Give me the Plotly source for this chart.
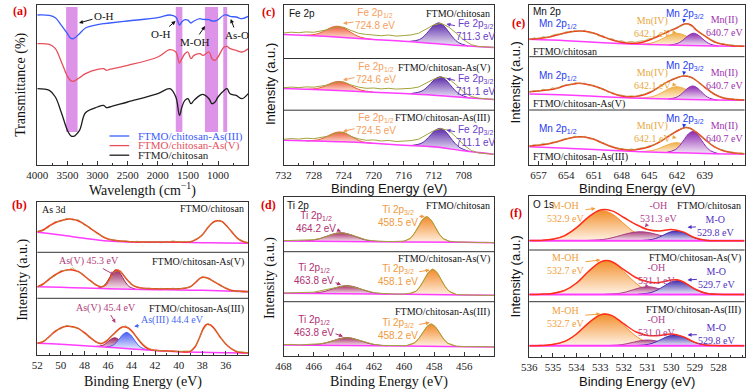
import plotly.graph_objects as go

W, H = 746, 391
SERIF = "Liberation Serif"
SANS = "Liberation Sans"

# ---------------- (a) FTIR ----------------
ftir_wn = [4000, 3800, 3700, 3600, 3500, 3450, 3400, 3300, 3200, 3000, 2900, 2850, 2800, 2500, 2000, 1800,
           1700, 1640, 1600, 1550, 1500, 1450, 1400, 1300, 1250, 1150, 1100, 1050, 1000, 900, 850, 800, 700, 600, 500]
ftir_as3 = [149.7, 149.3, 147, 139.3, 131, 126.7, 126, 131, 136.7, 140, 141, 141.3, 141.7, 143.7, 147, 149.7,
            147.7, 139.7, 143, 145, 144.5, 141.7, 143.7, 146, 145.3, 145, 143.7, 143.7, 145, 149.7, 149.7, 148.3, 147.7, 146, 148.3]
ftir_as5 = [121, 120.3, 116, 102.7, 88.3, 84.3, 83.3, 87, 91, 95.3, 96, 94.3, 95.3, 99.3, 107.7, 115,
            112.7, 101.7, 106, 111, 112.7, 106, 109.3, 111, 109.3, 112.7, 106, 104.3, 107.7, 117.7, 118.3, 116, 114.3, 112.7, 116]
ftir_raw = [76, 74.3, 67.7, 52, 34.3, 29.3, 28.3, 34.3, 52, 57.7, 59.3, 57, 57.7, 62.7, 71, 76,
            67.7, 49.3, 57.7, 64.3, 66, 61, 64.3, 69.3, 70.3, 66, 61, 62.7, 67.7, 74.3, 76, 71, 69.3, 66, 71]
band_lo = [3332, 1592, 1000, 848]
band_hi = [3522, 1701, 1217, 913]
band_bottom, band_top = 32.7, 157.7
ftir_names = ["FTMO/chitosan-As(III)", "FTMO/chitosan-As(V)", "FTMO/chitosan"]

# ---------------- (b) As 3d ----------------
b_raw_E = [52, 51.5, 51, 50.5, 50, 49.5, 49, 48.5, 48, 47.5, 47, 46.5, 46, 45.5, 45, 44.5, 44, 43.5, 43, 42.5,
           42, 41.5, 41, 40.5, 40, 39.5, 39, 38.5, 38, 37.5, 37, 36.5, 36, 35.5, 35, 34.5, 34.1]
b_raw_top = [123.8, 124.2, 128.0, 133.5, 133.6, 136.8, 134.9, 135.2, 129.8, 127.5, 121.8, 119.2, 115.6, 115.1, 113.6, 114.2,
             113.0, 113.8, 112.7, 113.5, 112.8, 113.4, 112.6, 114.2, 113.1, 113.6, 113.0, 116.2, 119.4, 128.3, 132.6, 134.8,
             129.4, 124.0, 116.2, 113.9, 112.0]
b_raw_mid = [68.0, 70.2, 76.8, 79.2, 84.6, 84.3, 87.2, 82.6, 79.8, 73.6, 70.5, 67.8, 72.4, 83.0, 84.6, 77.0, 70.2, 68.1,
             66.2, 66.9, 65.8, 66.7, 65.9, 66.8, 66.0, 67.1, 68.0, 73.8, 78.6, 76.2, 73.9, 69.4, 67.2, 63.8, 63.9, 62.8, 63.2]
b_raw_bot = [11.2, 13.9, 17.5, 24.6, 26.2, 29.8, 27.6, 26.9, 21.4, 18.0, 12.4, 11.9, 15.6, 21.0, 25.8, 29.4, 23.5, 17.0,
             10.8, 6.2, 4.2, 4.6, 3.5, 4.3, 3.2, 4.1, 3.9, 10.5, 23.4, 31.8, 26.0, 18.9, 10.4, 6.6, 3.4, 3.0, 2.0]
b_fit_top_E = [52, 51.5, 51, 50.5, 50, 49.5, 49, 48.5, 48, 47.5, 47, 46.5, 46, 45, 44, 42, 40, 39, 38.5, 38, 37.5, 37,
               36.7, 36.3, 36, 35.5, 35, 34.5, 34.1]
b_fit_top = [123.3, 125, 129, 132.3, 134.3, 135.7, 135.7, 134, 130.7, 126.7, 122.7, 118.7, 116, 114, 113.3, 113, 113,
             113.3, 115.7, 120, 127.7, 133.3, 134.3, 133.3, 130, 123.3, 116.7, 113.3, 112.3]
b_fit_mid_E = [52, 51.5, 51, 50.5, 50, 49.5, 49, 48.5, 48, 47.5, 47, 46.6, 46.2, 45.8, 45.5, 45.3, 45.0, 44.7, 44.3, 44.0,
               43.5, 43, 42, 40, 39.5, 39, 38.5, 38.2, 37.9, 37.5, 37, 36.5, 36, 35.5, 35, 34.1]
b_fit_mid = [68.3, 71, 75.7, 80, 83.3, 85, 85, 83.3, 79, 74.3, 70, 68.3, 70, 77.7, 83.3, 85, 84, 80, 74.3, 70.7,
             67.7, 66.7, 66.3, 66.3, 66.7, 68.3, 73.3, 76.7, 77.7, 76.7, 73.3, 70, 66.7, 64.6, 63.9, 63.4]
b_fit_bot_E = [52, 51.5, 51, 50.5, 50, 49.5, 49, 48.5, 48, 47.5, 47, 46.6, 46.2, 45.8, 45.4, 45.0, 44.7, 44.4, 44.0, 43.6,
               43.2, 42.8, 42.3, 42, 41, 40, 39, 38.6, 38.2, 37.9, 37.6, 37.3, 37, 36.5, 36, 35.5, 35, 34.1]
b_fit_bot = [11.7, 13.3, 18.3, 23.3, 27, 28.7, 28.3, 26.3, 22.3, 17.3, 13, 11.3, 13.3, 17.7, 22.3, 26.7, 28.3, 27.7, 24.3, 18.3,
             12.3, 7.7, 5.2, 4.7, 3.9, 3.6, 3.6, 8.3, 18.3, 26.7, 30.7, 30, 26.7, 18.3, 11, 6, 3.0, 2.2]
b_bg_E = [52, 50, 48, 46, 44, 42, 40, 38, 36, 34.1]
b_bg_top = [122.7, 120, 116.7, 114, 113, 112.7, 112.7, 112.3, 112, 111.7]
b_bg_mid = [68.3, 67.7, 67, 66.3, 65.7, 65.3, 65, 64.7, 64, 63.3]
b_bg_bot = [11.7, 10.7, 9.3, 7.7, 6, 4.5, 3.3, 2.7, 2.3, 2.0]
b_as5_mid_E = [46.95, 46.4, 46.13, 45.85, 45.58, 45.3, 45.03, 44.75, 44.48, 44.2, 43.65]
b_as5_mid = [66.4, 68.8, 72.4, 77.6, 82.8, 84.9, 82.7, 77.4, 72.1, 68.4, 65.8]
b_as5_bot_E = [47.05, 46.5, 46.23, 45.95, 45.68, 45.4, 45.13, 44.85, 44.58, 44.3, 43.75]
b_as5_bot = [8.6, 9.45, 11.15, 13.77, 16.27, 17.2, 15.82, 12.77, 9.75, 7.65, 5.8]
b_as3_bot_E = [46.2, 45.6, 45.3, 45.0, 44.7, 44.4, 44.1, 43.8, 43.5, 43.2, 42.6]
b_as3_bot = [7.9, 9.59, 12.37, 16.68, 20.89, 22.55, 20.39, 15.68, 10.87, 7.54, 4.9]

# ---------------- (c) Fe 2p ----------------
c_E = [732, 731, 730, 729, 728, 727, 726, 725, 724, 723, 722, 721, 720, 719, 718, 717, 716, 715, 714, 713, 712, 711,
       710, 709, 708, 707, 706, 705, 704]
c_raw_top = [131.5, 132.3, 131.8, 132.6, 132.2, 133.4, 135.0, 137.6, 137.3, 134.0, 131.2, 130.1, 129.6, 128.8, 129.5,
             128.4, 128.9, 129.6, 131.3, 135.2, 139.6, 141.2, 137.5, 131.4, 124.6, 119.8, 117.9, 117.6, 117.2]
c_raw_mid = [76.8, 77.4, 76.9, 77.6, 77.3, 78.4, 79.6, 82.3, 82.6, 79.5, 77.4, 76.2, 76.5, 75.6, 76.2, 75.4, 75.9, 76.2,
             77.5, 81.2, 85.3, 87.6, 85.7, 79.6, 72.5, 68.0, 66.3, 65.6, 65.2]
c_raw_bot = [25.2, 25.9, 25.4, 26.3, 25.8, 27.0, 28.4, 31.3, 32.2, 28.0, 25.6, 24.2, 24.6, 23.5, 24.1, 23.0, 23.4, 23.9,
             25.3, 29.5, 33.8, 35.9, 34.0, 27.4, 19.6, 14.0, 11.5, 10.9, 10.2]
c_bg_E = [732, 728, 724, 720, 716, 712, 708, 704]
c_bg_top = [130, 128.7, 127, 125, 123.3, 121, 118.7, 117]
c_bg_mid = [76, 75, 73.7, 72.3, 71, 69.3, 67, 65]
c_bg_bot = [24.3, 23.5, 22.7, 21.2, 19.3, 17.7, 13.7, 10.3]
c_fe12_top_E = [729.3, 727.8, 727.05, 726.3, 725.55, 724.8, 724.05, 723.3, 722.55, 721.8, 720.3]
c_fe12_top = [129.2, 130.1, 131.9, 134.6, 137.3, 138.3, 136.7, 133.4, 129.9, 127.4, 125.2]
c_fe32_top_E = [715.2, 713.9, 713.25, 712.6, 711.95, 711.3, 710.65, 710.0, 709.35, 708.7, 707.4]
c_fe32_top = [123.1, 124.9, 128.5, 134.1, 139.5, 141.6, 138.7, 132.6, 126.3, 121.9, 118.4]
c_fe12_mid_E = [729.1, 727.6, 726.85, 726.1, 725.35, 724.6, 723.85, 723.1, 722.35, 721.6, 720.1]
c_fe12_mid = [75.1, 75.96, 77.42, 79.85, 82.2, 83.1, 81.8, 79.05, 76.22, 74.16, 72.5]
c_fe32_mid_E = [715.0, 713.7, 713.05, 712.4, 711.75, 711.1, 710.45, 709.8, 709.15, 708.5, 707.2]
c_fe32_mid = [71.0, 73.0, 76.2, 81.05, 85.9, 87.7, 85.1, 79.65, 73.98, 70.12, 66.4]
c_fe12_bot_E = [729.0, 727.5, 726.75, 726.0, 725.25, 724.5, 723.75, 723.0, 722.25, 721.5, 720.0]
c_fe12_bot = [23.5, 24.55, 26.25, 28.97, 31.52, 32.6, 31.22, 28.17, 25.05, 22.75, 20.9]
c_fe32_bot_E = [715.0, 713.7, 713.05, 712.4, 711.75, 711.1, 710.45, 709.8, 709.15, 708.5, 707.2]
c_fe32_bot = [18.9, 21.0, 24.37, 29.6, 34.4, 36.1, 33.2, 27.2, 21.07, 16.8, 12.9]

# ---------------- (d) Ti 2p ----------------
d_raw_top_E = [468, 467.5, 467, 466.5, 466, 465.5, 465, 464.5, 464, 463.5, 463, 462.5, 462, 461.5, 461, 460.5, 460,
               459.6, 459.33, 459.05, 458.78, 458.5, 458.23, 457.95, 457.68, 457.4, 457, 456.5, 456, 455.5, 455, 454.5, 454]
d_raw_top = [115.3, 115.6, 115.2, 115.7, 116.3, 117.8, 120.3, 122.8, 123.0, 121.2, 118.6, 116.1, 115.1, 114.5, 114.4,
             114.6, 114.9, 117.6, 122.3, 129.5, 136.4, 139.4, 136.4, 129.5, 122.3, 117.5, 114.8, 114.1, 113.7, 113.9,
             113.5, 113.6, 113.3]
d_raw_mid_E = [468, 467.5, 467, 466.5, 466, 465.5, 465, 464.5, 464, 463.5, 463, 462.5, 462, 461.5, 461, 460.5, 460,
               459.6, 459.2, 458.93, 458.65, 458.38, 458.1, 457.83, 457.55, 457.28, 457.0, 456.5, 456, 455.5, 455, 454.5, 454]
d_raw_mid = [63.0, 63.3, 62.9, 63.5, 63.8, 65.4, 66.8, 68.7, 70.1, 69.6, 67.6, 65.0, 63.3, 62.6, 62.1, 61.9, 62.0, 62.8,
             64.9, 69.8, 76.9, 83.8, 86.8, 83.8, 76.7, 69.6, 64.7, 61.4, 61.1, 60.8, 61.0, 60.6, 60.7]
d_raw_bot_E = [468, 467.5, 467, 466.5, 466, 465.5, 465, 464.5, 464, 463.5, 463, 462.5, 462, 461.5, 461, 460.5, 460,
               459.85, 459.3, 459.03, 458.75, 458.48, 458.2, 457.93, 457.65, 457.38, 457.1, 456.55, 456, 455.5, 455, 454.5, 454]
d_raw_bot = [11.3, 11.6, 11.1, 11.5, 11.9, 12.3, 14.0, 16.3, 18.1, 17.9, 15.8, 13.4, 11.6, 10.6, 10.3, 10.1, 10.3, 10.4,
             13.2, 17.4, 23.4, 29.5, 32.0, 29.3, 23.3, 17.0, 12.8, 9.9, 9.4, 9.6, 9.2, 9.3, 9.0]
d_bg_E = [468, 462, 456, 454]
d_bg_top = [115, 114.3, 113.7, 113.3]
d_bg_mid = [62.7, 62, 61, 60.7]
d_bg_bot = [11, 10.3, 9.3, 9]
d_ti12_top_E = [466.9, 466.0, 465.55, 465.1, 464.65, 464.2, 463.75, 463.3, 462.85, 462.4, 461.5]
d_ti12_top = [114.9, 115.96, 117.6, 120.0, 122.3, 123.3, 122.2, 119.8, 117.3, 115.56, 114.3]
d_ti32_top_E = [460.15, 459.6, 459.33, 459.05, 458.78, 458.5, 458.23, 457.95, 457.68, 457.4, 456.85]
d_ti32_top = [114.1, 117.5, 122.2, 129.4, 136.3, 139.3, 136.3, 129.4, 122.1, 117.3, 113.8]
d_ti12_mid_E = [466.5, 465.6, 465.15, 464.7, 464.25, 463.8, 463.35, 462.9, 462.45, 462.0, 461.1]
d_ti12_mid = [62.6, 63.6, 65.1, 67.3, 69.5, 70.3, 69.4, 67.1, 64.8, 63.1, 61.9]
d_ti32_mid_E = [459.75, 459.2, 458.93, 458.65, 458.38, 458.1, 457.83, 457.55, 457.28, 457.0, 456.45]
d_ti32_mid = [61.5, 64.8, 69.7, 76.8, 83.7, 86.7, 83.7, 76.6, 69.5, 64.6, 61.0]
d_ti12_bot_E = [466.5, 465.6, 465.15, 464.7, 464.25, 463.8, 463.35, 462.9, 462.45, 462.0, 461.1]
d_ti12_bot = [10.9, 11.84, 13.3, 15.37, 17.5, 18.4, 17.4, 15.27, 13.0, 11.44, 10.2]
d_ti32_bot_E = [459.85, 459.3, 459.03, 458.75, 458.48, 458.2, 457.93, 457.65, 457.38, 457.1, 456.55]
d_ti32_bot = [10.2, 13.07, 17.25, 23.35, 29.4, 31.95, 29.3, 23.25, 16.95, 12.77, 9.7]

# ---------------- (e) Mn 2p ----------------
e_raw_E = [658, 657.5, 657, 656.5, 656, 655.5, 655, 654.5, 654, 653.5, 653, 652.5, 652, 651.5, 651, 650.5, 650, 649.5,
           649, 648.5, 648, 647.5, 647, 646.5, 646, 645.5, 645, 644.5, 644, 643.5, 643, 642.5, 642, 641.5, 641, 640.5,
           640, 639.5, 639, 638.5, 638, 637.5, 637, 636.5, 636, 635.5, 635, 634.7]
e_raw_top = [125.0, 127.2, 126.0, 128.5, 127.2, 129.8, 131.0, 130.6, 133.4, 132.5, 134.6, 133.2, 134.8, 132.0, 132.4,
             129.1, 129.3, 126.0, 126.4, 123.5, 124.3, 122.6, 123.6, 122.8, 124.0, 124.3, 126.5, 126.7, 130.2, 131.0,
             134.4, 134.8, 138.0, 139.2, 141.5, 139.3, 136.6, 131.5, 129.8, 125.4, 124.2, 121.3, 121.5, 119.6, 120.2,
             118.8, 119.4, 118.6]
e_raw_mid = [72.6, 74.5, 73.5, 75.8, 74.6, 77.2, 76.4, 78.9, 80.2, 80.4, 82.3, 81.2, 82.0, 79.3, 79.8, 76.6, 76.5, 72.8,
             72.6, 69.8, 70.0, 68.4, 69.2, 68.5, 70.1, 71.0, 73.2, 74.4, 77.5, 80.8, 83.0, 85.9, 86.8, 88.9, 89.4, 87.3,
             85.6, 80.6, 78.4, 73.5, 71.6, 68.4, 67.7, 65.8, 66.3, 64.9, 65.5, 64.8]
e_raw_bot = [18.4, 20.4, 19.6, 21.8, 20.6, 23.0, 22.6, 25.3, 26.4, 27.0, 28.9, 27.6, 28.7, 26.1, 26.3, 22.9, 22.5, 19.3,
             18.8, 16.2, 16.6, 15.0, 16.0, 15.4, 17.0, 17.3, 19.4, 20.0, 23.3, 25.0, 29.0, 31.6, 34.6, 36.2, 37.8, 36.0,
             33.9, 28.8, 26.3, 21.4, 19.0, 15.6, 15.0, 12.6, 13.0, 11.5, 12.0, 11.2]
e_fit_top_E = [658, 656, 655, 654, 653, 652.5, 652, 651, 650, 649, 648, 647, 646, 645, 644, 643, 642, 641.2, 640.5, 640,
               639, 638, 637, 636, 634.7]
e_fit_top = [125.7, 127.7, 130, 132.3, 133.7, 134, 133.7, 131.7, 128.3, 125, 122.7, 121.7, 122.3, 125, 129, 133.3, 137.3,
             141, 140, 135.7, 129, 123.3, 120.7, 119.3, 118.7]
e_fit_mid_E = [658, 656, 655, 654, 653, 652.5, 652, 651, 650, 649, 648, 647, 646, 645, 644, 643, 642, 641.3, 640.5, 640,
               639, 638, 637, 636, 634.7]
e_fit_mid = [73.3, 75, 76.7, 79.7, 81.3, 81.7, 81, 79, 75.7, 71.7, 69, 68.3, 69.3, 72.3, 77.7, 83.3, 87.3, 89, 87.7, 85,
             77.7, 71, 67, 65.7, 65]
e_fit_bot_E = [658, 656, 655, 654, 653, 652.4, 652, 651, 650, 649, 648, 647, 646, 645, 644, 643, 642, 641.2, 640.6, 640,
               639, 638, 637, 636, 634.7]
e_fit_bot = [19, 21, 23.3, 26, 28, 28.3, 28, 25.7, 21.7, 18, 15.7, 15, 16, 18.3, 22.3, 28.3, 34, 37.3, 36.7, 33.3, 25.7,
             18.3, 14.3, 12.3, 11.3]
e_bg_E = [658, 654, 650, 646, 642, 638, 634.7]
e_bg_top = [125.7, 124.3, 122.3, 120.7, 119.7, 119, 118.7]
e_bg_mid = [71, 70, 68.3, 66.7, 65.7, 65, 64.7]
e_bg_bot = [18.3, 16.7, 15, 13.3, 12.3, 11.3, 11]
e_mn4_top_E = [646.2, 644.8, 644.1, 643.4, 642.7, 642.0, 641.3, 640.6, 639.9, 639.2, 637.8]
e_mn4_top = [120.75, 121.9, 124.1, 127.3, 130.5, 131.7, 130.2, 126.8, 123.2, 120.8, 119.0]
e_mn2_top_E = [642.9, 642.0, 641.55, 641.1, 640.65, 640.2, 639.75, 639.3, 638.85, 638.4, 637.5]
e_mn2_top = [119.85, 121.4, 123.6, 127.0, 130.4, 131.8, 130.2, 126.7, 123.2, 120.8, 119.0]
e_mn4_mid_E = [646.2, 644.8, 644.1, 643.4, 642.7, 642.0, 641.3, 640.6, 639.9, 639.2, 637.8]
e_mn4_mid = [66.75, 68.1, 70.3, 73.65, 77.0, 78.3, 76.7, 73.05, 69.4, 66.9, 64.95]
e_mn2_mid_E = [643.0, 642.1, 641.65, 641.2, 640.75, 640.3, 639.85, 639.4, 638.95, 638.5, 637.6]
e_mn2_mid = [65.85, 67.55, 70.05, 73.8, 77.5, 79.0, 77.3, 73.5, 69.55, 66.85, 64.9]
e_mn4_bot_E = [646.2, 644.8, 644.1, 643.4, 642.7, 642.0, 641.3, 640.6, 639.9, 639.2, 637.8]
e_mn4_bot = [13.35, 14.35, 16.05, 18.72, 21.32, 22.3, 20.97, 18.02, 15.05, 12.95, 11.25]
e_mn2_bot_E = [643.15, 642.2, 641.73, 641.25, 640.78, 640.3, 639.83, 639.35, 638.88, 638.4, 637.45]
e_mn2_bot = [12.6, 15.27, 19.27, 25.2, 31.05, 33.5, 30.85, 24.75, 18.57, 14.32, 11.15]

# ---------------- (f) O 1s ----------------
f_fit_top_E = [536, 535.5, 535, 534.5, 534, 533.5, 533, 532.5, 532, 531.5, 531, 530.5, 530, 529.5, 529, 528.5, 528, 526.9]
f_fit_top = [116.1, 116.3, 117.4, 121.1, 129, 139.6, 146.7, 145.8, 139.2, 132.4, 127.2, 125.7, 127.3, 124.8, 118.9, 116.3,
             116.0, 116.0]
f_fit_mid_E = [536, 535.5, 535, 534.5, 534, 533.5, 533, 532.75, 532.5, 532, 531.5, 531, 530.5, 530, 529.75, 529.5, 529,
               528.5, 528, 526.9]
f_fit_mid = [62.3, 62.5, 63.3, 66.3, 73.7, 85.2, 94.6, 96.1, 94.9, 87.1, 79.2, 75.0, 74.1, 76.8, 76.9, 75.0, 67.7, 63.3,
             62.4, 62.3]
f_fit_bot_E = [536, 535.5, 535, 534.5, 534, 533.5, 533, 532.8, 532.5, 532, 531.5, 531, 530.5, 530, 529.5, 529, 528.5, 528,
               526.9]
f_fit_bot = [11.0, 11.2, 12.1, 15.3, 22.7, 33.6, 41.8, 42.8, 41.05, 32.8, 24.9, 21.3, 21.1, 22.8, 20.05, 14.3, 11.5, 11.05, 11.0]
f_bg_E = [536, 526.9]
f_bg_top = [116, 116]
f_bg_mid = [62.3, 62.3]
f_bg_bot = [11, 11]
f_moh_top_E = [535.45, 534.6, 534.18, 533.75, 533.33, 532.9, 532.48, 532.05, 531.63, 531.2, 530.35]
f_moh_top = [116.3, 120.05, 125.75, 134.2, 142.5, 146, 142.5, 134.2, 125.75, 120.05, 116.3]
f_oh_top_E = [533.7, 532.9, 532.5, 532.1, 531.7, 531.3, 530.9, 530.5, 530.1, 529.7, 528.9]
f_oh_top = [116.1, 117.2, 118.9, 121.5, 123.9, 125, 123.9, 121.5, 118.9, 117.2, 116.1]
f_mo_top_E = [531.3, 530.8, 530.55, 530.3, 530.05, 529.8, 529.55, 529.3, 529.05, 528.8, 528.3]
f_mo_top = [116.1, 117.3, 119.15, 121.9, 124.6, 125.7, 124.6, 121.9, 119.15, 117.3, 116.1]
f_moh_mid_E = [535.3, 534.45, 534.03, 533.6, 533.18, 532.75, 532.33, 531.9, 531.48, 531.05, 530.2]
f_moh_mid = [62.5, 66.85, 73.25, 82.76, 92.0, 96.0, 92.0, 82.76, 73.25, 66.85, 62.5]
f_oh_mid_E = [532.8, 532.2, 531.9, 531.6, 531.3, 531.0, 530.7, 530.4, 530.1, 529.8, 529.2]
f_oh_mid = [62.4, 63.34, 64.8, 66.97, 69.09, 70.0, 69.09, 66.97, 64.8, 63.34, 62.4]
f_mo_mid_E = [531.4, 530.85, 530.58, 530.3, 530.03, 529.75, 529.48, 529.2, 528.93, 528.65, 528.1]
f_mo_mid = [62.5, 64.15, 66.75, 70.62, 74.38, 76.0, 74.38, 70.62, 66.75, 64.15, 62.5]
f_moh_bot_E = [535.35, 534.5, 534.08, 533.65, 533.23, 532.8, 532.38, 531.95, 531.53, 531.1, 530.25]
f_moh_bot = [11.2, 15.28, 21.3, 30.24, 38.96, 42.7, 38.96, 30.24, 21.3, 15.28, 11.2]
f_oh_bot_E = [532.8, 532.2, 531.9, 531.6, 531.3, 531.0, 530.7, 530.4, 530.1, 529.8, 529.2]
f_oh_bot = [11.06, 11.77, 12.85, 14.46, 16.03, 16.7, 16.03, 14.46, 12.85, 11.77, 11.06]
f_mo_bot_E = [531.5, 530.95, 530.68, 530.4, 530.13, 529.85, 529.58, 529.3, 529.03, 528.75, 528.2]
f_mo_bot = [11.1, 12.44, 14.48, 17.5, 20.44, 21.7, 20.44, 17.5, 14.48, 12.44, 11.1]

row_names = ["FTMO/chitosan", "FTMO/chitosan-As(V)", "FTMO/chitosan-As(III)"]

# ---------------- styling ----------------
C_FIT = "#ff2e1a"
C_RAW = "#a2a23a"
C_BG = "#ff3cff"

fig = go.Figure()


def axes(n):
    return ("x" if n == 1 else f"x{n}", "y" if n == 1 else f"y{n}")


def line(n, xs, ys, color, width, shape="spline"):
    xa, ya = axes(n)
    fig.add_trace(go.Scatter(x=xs, y=ys, xaxis=xa, yaxis=ya, mode="lines",
                             line=dict(color=color, width=width, shape=shape),
                             hoverinfo="skip", showlegend=False))


def peak(n, xs, ys, dark, light):
    xa, ya = axes(n)
    fig.add_trace(go.Scatter(x=[xs[0], xs[-1]], y=[ys[0], ys[-1]], xaxis=xa, yaxis=ya, mode="lines",
                             line=dict(width=0, color="rgba(0,0,0,0)"), hoverinfo="skip", showlegend=False))
    fig.add_trace(go.Scatter(x=xs, y=ys, xaxis=xa, yaxis=ya, mode="lines",
                             line=dict(color=dark, width=1, shape="spline"), fill="tonexty",
                             fillgradient=dict(type="vertical", colorscale=[[0, light], [1, dark]],
                                               start=min(ys), stop=max(ys)),
                             hoverinfo="skip", showlegend=False))


# panel geometry (pixels)
panels = {
    1: dict(x=(26.7, 240.7), y=(5, 164.7), rng=[4000, 500], ymax=159.7,
            tv=[4000, 3500, 3000, 2500, 2000, 1500, 1000], minor=250, seps=[]),
    2: dict(x=(26.7, 240.7), y=(202, 355), rng=[52, 34.1], ymax=153,
            tv=[52, 50, 48, 46, 44, 42, 40, 38, 36], minor=1, seps=[102.7, 56.7]),
    3: dict(x=(276.7, 490.7), y=(5, 164.5), rng=[732, 703.9], ymax=159.5,
            tv=[732, 728, 724, 720, 716, 712, 708], minor=2, seps=[106, 54.3]),
    4: dict(x=(276.7, 490.7), y=(197, 356), rng=[468, 454], ymax=159,
            tv=[468, 466, 464, 462, 460, 458, 456], minor=1, seps=[104.3, 54.3]),
    5: dict(x=(526, 744.5), y=(5, 165), rng=[658, 634.7], ymax=160,
            tv=[657, 654, 651, 648, 645, 642, 639], minor=1.5, seps=[108.3, 55]),
    6: dict(x=(526, 744.5), y=(196, 356.7), rng=[536, 526.9], ymax=160.7,
            tv=[536, 535, 534, 533, 532, 531, 530, 529, 528], minor=0.5, seps=[106.7, 55]),
}

layout_axes = {}
shapes = []
for n, p in panels.items():
    xk = "xaxis" if n == 1 else f"xaxis{n}"
    yk = "yaxis" if n == 1 else f"yaxis{n}"
    xa, ya = axes(n)
    layout_axes[xk] = dict(domain=[p["x"][0] / W, p["x"][1] / W], anchor=ya, range=p["rng"],
                           tickmode="array", tickvals=p["tv"], ticktext=[str(v) for v in p["tv"]],
                           ticks="inside", ticklen=4, tickcolor="#333", tickwidth=1,
                           minor=dict(ticks="inside", ticklen=2, tickcolor="#333", dtick=p["minor"], tick0=p["tv"][0]),
                           showline=True, mirror=True, linecolor="#333", linewidth=1,
                           showgrid=False, zeroline=False,
                           tickfont=dict(family=SERIF, size=11, color="#222"))
    layout_axes[yk] = dict(domain=[1 - p["y"][1] / H, 1 - p["y"][0] / H], anchor=xa, range=[0, p["ymax"]],
                           showticklabels=False, ticks="", showline=True, mirror=True, linecolor="#333",
                           linewidth=1, showgrid=False, zeroline=False)
    for s in p["seps"]:
        shapes.append(dict(type="line", xref=f"{xa} domain", yref=ya, x0=0, x1=1, y0=s, y1=s,
                           line=dict(color="#333", width=1)))

# (a) bands
for lo, hi in zip(band_lo, band_hi):
    shapes.append(dict(type="rect", xref="x", yref="y", x0=lo, x1=hi, y0=band_bottom, y1=band_top,
                       fillcolor="#dc93e8", line=dict(width=0), layer="below"))

C_A = ["#3a5cff", "#e8505c", "#1e1e1e"]
line(1, ftir_wn, ftir_raw, C_A[2], 1.3)
line(1, ftir_wn, ftir_as5, C_A[1], 1.3)
line(1, ftir_wn, ftir_as3, C_A[0], 1.3)

# (b)
peak(2, b_as5_mid_E, b_as5_mid, "#9c2a64", "#f6e6ee")
peak(2, b_as5_bot_E, b_as5_bot, "#9c2a64", "#f6e6ee")
peak(2, b_as3_bot_E, b_as3_bot, "#4a5ef2", "#eef0ff")
for bg in (b_bg_top, b_bg_mid, b_bg_bot):
    line(2, b_bg_E, bg, C_BG, 1.5)
line(2, b_fit_top_E, b_fit_top, C_FIT, 1.5)
line(2, b_fit_mid_E, b_fit_mid, C_FIT, 1.5)
line(2, b_fit_bot_E, b_fit_bot, C_FIT, 1.5)
for raw in (b_raw_top, b_raw_mid, b_raw_bot):
    line(2, b_raw_E, raw, C_RAW, 0.7, "linear")

# (c)
for xs, ys in ((c_fe12_top_E, c_fe12_top), (c_fe12_mid_E, c_fe12_mid), (c_fe12_bot_E, c_fe12_bot)):
    peak(3, xs, ys, "#ee5a3a", "#fdeae2")
for xs, ys in ((c_fe32_top_E, c_fe32_top), (c_fe32_mid_E, c_fe32_mid), (c_fe32_bot_E, c_fe32_bot)):
    peak(3, xs, ys, "#5a2aa8", "#efe8f8")
for bg in (c_bg_top, c_bg_mid, c_bg_bot):
    line(3, c_bg_E, bg, C_BG, 1.5)
for raw in (c_raw_top, c_raw_mid, c_raw_bot):
    line(3, c_E, raw, C_RAW, 1, "linear")

# (d)
for xs, ys in ((d_ti12_top_E, d_ti12_top), (d_ti12_mid_E, d_ti12_mid), (d_ti12_bot_E, d_ti12_bot)):
    peak(4, xs, ys, "#a8306a", "#f8e8f0")
for xs, ys in ((d_ti32_top_E, d_ti32_top), (d_ti32_mid_E, d_ti32_mid), (d_ti32_bot_E, d_ti32_bot)):
    peak(4, xs, ys, "#f28a2a", "#fff0e0")
for bg in (d_bg_top, d_bg_mid, d_bg_bot):
    line(4, d_bg_E, bg, C_BG, 1.5)
line(4, d_raw_top_E, d_raw_top, C_RAW, 1, "linear")
line(4, d_raw_mid_E, d_raw_mid, C_RAW, 1, "linear")
line(4, d_raw_bot_E, d_raw_bot, C_RAW, 1, "linear")

# (e)
for xs, ys in ((e_mn4_top_E, e_mn4_top), (e_mn4_mid_E, e_mn4_mid), (e_mn4_bot_E, e_mn4_bot)):
    peak(5, xs, ys, "#f0b04a", "#fff6e6")
for xs, ys in ((e_mn2_top_E, e_mn2_top), (e_mn2_mid_E, e_mn2_mid), (e_mn2_bot_E, e_mn2_bot)):
    peak(5, xs, ys, "#8e2cb0", "#f4e8f8")
for bg in (e_bg_top, e_bg_mid, e_bg_bot):
    line(5, e_bg_E, bg, C_BG, 1.5)
line(5, e_fit_top_E, e_fit_top, C_FIT, 1.5)
line(5, e_fit_mid_E, e_fit_mid, C_FIT, 1.5)
line(5, e_fit_bot_E, e_fit_bot, C_FIT, 1.5)
for raw in (e_raw_top, e_raw_mid, e_raw_bot):
    line(5, e_raw_E, raw, C_RAW, 0.7, "linear")

# (f)
for xs, ys in ((f_moh_top_E, f_moh_top), (f_moh_mid_E, f_moh_mid), (f_moh_bot_E, f_moh_bot)):
    peak(6, xs, ys, "#f2902e", "#fff2e4")
for xs, ys in ((f_oh_top_E, f_oh_top), (f_oh_mid_E, f_oh_mid), (f_oh_bot_E, f_oh_bot)):
    peak(6, xs, ys, "#a8407e", "#f6eaf2")
for xs, ys in ((f_mo_top_E, f_mo_top), (f_mo_mid_E, f_mo_mid), (f_mo_bot_E, f_mo_bot)):
    peak(6, xs, ys, "#4430b0", "#ecebf8")
for bg in (f_bg_top, f_bg_mid, f_bg_bot):
    line(6, f_bg_E, bg, C_BG, 2)
line(6, f_fit_top_E, f_fit_top, C_FIT, 1.5)
line(6, f_fit_mid_E, f_fit_mid, C_FIT, 1.5)
line(6, f_fit_bot_E, f_fit_bot, C_FIT, 1.5)

# ---------------- annotations ----------------
anns = []


def txt(px, py, s, size, color="#111", family=SERIF, xanchor="center", angle=0):
    anns.append(dict(x=px / W, y=1 - py / H, xref="paper", yref="paper", text=s, showarrow=False,
                     font=dict(family=family, size=size, color=color), xanchor=xanchor, yanchor="middle",
                     textangle=angle))


def arrow(hx, hy, tx, ty, s, size, color, family=SERIF):
    anns.append(dict(x=hx / W, y=1 - hy / H, xref="paper", yref="paper", ax=tx - hx, ay=ty - hy,
                     axref="pixel", ayref="pixel", text=s, showarrow=True, arrowhead=2, arrowsize=0.8,
                     arrowwidth=1, arrowcolor=color, font=dict(family=family, size=size, color=color),
                     align="center"))


# panel letters
for lab, px, py in (("(a)", 9, 11), ("(b)", 9, 205), ("(c)", 261, 12), ("(d)", 261, 205), ("(e)", 515, 23), ("(f)", 513, 213)):
    txt(px, py, f"<b>{lab}</b>", 12, "#e00000")

# axis titles
txt(10, 85, "Transmittance (%)", 14, angle=-90)
txt(133.7, 190, "Wavelength (cm<sup>−1</sup>)", 14)
txt(12, 280, "Intensity (a.u.)", 14, angle=-90)
txt(133.7, 381.5, "Binding Energy (eV)", 14)
txt(263, 84, "Intensity (a.u.)", 13, family=SANS, angle=-90)
txt(383.7, 188, "Binding Energy (eV)", 13, family=SANS)
txt(263, 278, "Intensity (a.u.)", 14, angle=-90)
txt(383.7, 381.5, "Binding Energy (eV)", 14)
txt(512, 82, "Intensity (a.u.)", 13, family=SANS, angle=-90)
txt(635, 188, "Binding Energy (eV)", 13, family=SANS)
txt(512, 276, "Intensity (a.u.)", 13, family=SANS, angle=-90)
txt(635, 381.5, "Binding Energy (eV)", 13, family=SANS)

# (a) legend and labels
for i, (name, col) in enumerate(zip(ftir_names, C_A)):
    yy = 136 + 9.6 * i
    shapes.append(dict(type="line", xref="paper", yref="paper", x0=100 / W, x1=120 / W, y0=1 - yy / H, y1=1 - yy / H,
                       line=dict(color=col, width=1.3)))
    txt(127, yy, name, 11, col, xanchor="left")
arrow(69, 23, 94, 16, "O-H", 11, "#111")
arrow(167, 21, 152, 34, "O-H", 11, "#111")
arrow(197, 26, 186, 42, "M-OH", 11, "#111")
arrow(223, 19, 229, 35, "As-O", 11, "#111")

# (b)
txt(29, 209, "As 3d", 10, xanchor="left")
for nm, py in zip(row_names, (208.5, 261.5, 308.5)):
    txt(239, py, nm, 10, xanchor="right")
arrow(105, 275, 80, 261, "As(V) 45.3 eV", 10, "#b0407a")
arrow(106, 323, 97, 307.5, "As(V) 45.4 eV", 10, "#b0407a")
arrow(125, 326.5, 163, 319.5, "As(III) 44.4 eV", 10, "#4a6af0")

# (c)
txt(280, 14, "Fe 2p", 10, family=SANS, xanchor="left")
for nm, py in zip(row_names, (14, 68.3, 118.3)):
    txt(488, py, nm, 10, xanchor="right")
FE12 = "#f5a060"
FE32 = "#6a40c8"
arrow(337, 23.5, 369, 19, "Fe 2p<sub>1/2</sub><br>724.8 eV", 10, FE12, SANS)
arrow(442, 24, 472, 30, "Fe 2p<sub>3/2</sub><br>711.3 eV", 10, FE32, SANS)
arrow(337, 80, 370, 73, "Fe 2p<sub>1/2</sub><br>724.6 eV", 10, FE12, SANS)
arrow(442, 78.5, 472, 85, "Fe 2p<sub>3/2</sub><br>711.1 eV", 10, FE32, SANS)
arrow(337, 131.5, 370, 123.5, "Fe 2p<sub>1/2</sub><br>724.5 eV", 10, FE12, SANS)
arrow(442, 130, 472, 136, "Fe 2p<sub>3/2</sub><br>711.1 eV", 10, FE32, SANS)

# (d)
txt(278, 205, "Ti 2p", 10, family=SANS, xanchor="left")
for nm, py in zip(row_names, (205, 259.3, 311.7)):
    txt(488, py, nm, 10, xanchor="right")
TI12 = "#b03070"
TI32 = "#f09a40"
arrow(335, 231.5, 310, 221.5, "Ti 2p<sub>1/2</sub><br>464.2 eV", 10, TI12, SANS)
arrow(420, 216.5, 393, 216, "Ti 2p<sub>3/2</sub><br>458.5 eV", 10, TI32, SANS)
arrow(335, 285, 308, 273.5, "Ti 2p<sub>1/2</sub><br>463.8 eV", 10, TI12, SANS)
arrow(425, 270, 393, 275, "Ti 2p<sub>3/2</sub><br>458.1 eV", 10, TI32, SANS)
arrow(337, 336.5, 308, 326, "Ti 2p<sub>1/2</sub><br>463.8 eV", 10, TI12, SANS)
arrow(425, 322.5, 393, 328.5, "Ti 2p<sub>3/2</sub><br>458.2 eV", 10, TI32, SANS)

# (e)
txt(528, 12, "Mn 2p", 10, family=SANS, xanchor="left")
for nm, py in zip(row_names, (51.7, 104, 157.3)):
    txt(528, py, nm, 10, xanchor="left")
MNB = "#1f3cf0"
MN4 = "#e8a840"
MN2 = "#a030b0"
for dy in (0, 52.3, 105):
    arrow(576.7, 31 + dy, 556, 23.5 + dy, "Mn 2p<sub>1/2</sub>", 10, MNB, SANS)
    arrow(682.7, 23 + dy, 684, 14 + dy, "Mn 2p<sub>3/2</sub>", 10, MNB, SANS)
    arrow(675.5, 33 + dy, 651.7, 27 + dy, "Mn(IV)<br>642.1 eV", 10, MN4)
    arrow(703.3, 30.5 + dy, 723.5, 26.5 + dy, "Mn(II)<br>640.7 eV", 10, MN2)

# (f)
txt(528, 204, "O 1s", 10, family=SANS, xanchor="left")
for nm, py in zip(row_names, (205, 258, 310)):
    txt(743, py, nm, 10, xanchor="right")
MOH = "#f0a040"
OHC = "#b04090"
MOC = "#5030c0"
arrow(593.3, 208.5, 563.3, 211.7, "M-OH<br>532.9 eV", 10, MOH)
arrow(643.3, 227.3, 656.7, 211.7, "-OH<br>531.3 eV", 10, OHC)
arrow(686.7, 227.3, 715, 226, "M-O<br>529.8 eV", 10, MOC)
arrow(598.3, 260, 563.3, 264, "M-OH<br>532.7 eV", 10, MOH)
arrow(643.3, 288, 655, 273.5, "-OH<br>531.1 eV", 10, OHC)
arrow(686.7, 280, 716, 278, "M-O<br>529.7 eV", 10, MOC)
arrow(598.3, 314, 563.3, 316.7, "M-OH<br>532.7 eV", 10, MOH)
arrow(643.3, 339, 655, 326, "-OH<br>531.0 eV", 10, OHC)
arrow(686.7, 335, 716, 334, "M-O<br>529.8 eV", 10, MOC)

fig.update_layout(width=W, height=H, margin=dict(l=0, r=0, t=0, b=0), paper_bgcolor="white",
                  plot_bgcolor="white", showlegend=False, shapes=shapes, annotations=anns, **layout_axes)

fig.write_html("out.html")
